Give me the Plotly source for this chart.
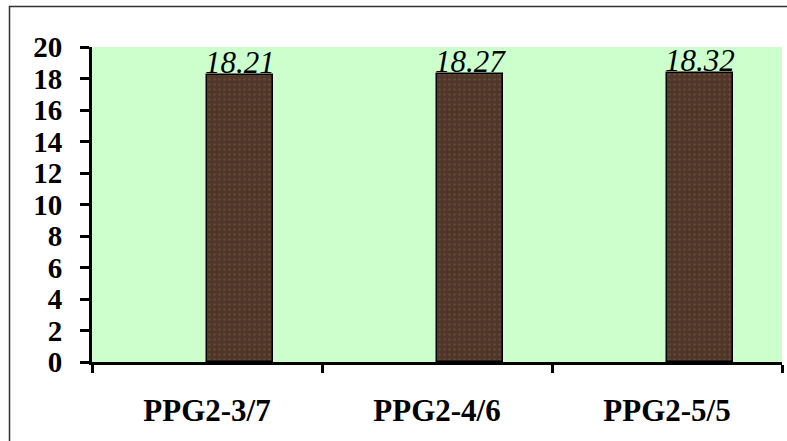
import plotly.graph_objects as go

categories = ["PPG2-3/7", "PPG2-4/6", "PPG2-5/5"]
values = [18.21, 18.27, 18.32]
y_ticks = list(range(0, 21, 2))

W, H = 787, 441
L, R, T, B = 92, 5, 47, 79
pw, ph = W - L - R, H - T - B
BAR_W = 0.287
SERIF = "'Liberation Serif', 'Times New Roman', Times, serif"

def px_x(p):
    return (p - L) / pw

def px_y(p):
    return 1 - (p - T) / ph

fig = go.Figure()
fig.add_trace(go.Bar(
    x=categories,
    y=values,
    offset=0,
    width=BAR_W,
    marker=dict(
        color="rgb(80,54,40)",
        line=dict(color="black", width=1.5),
        pattern=dict(shape=".", fgcolor="rgb(118,90,72)", size=5, solidity=0.2, fillmode="overlay"),
    ),
    cliponaxis=False,
))

annotations = [
    dict(x=c, y=v, xref="x", yref="y", text=f"{v:.2f}", showarrow=False,
         xanchor="center", yanchor="bottom", xshift=BAR_W * pw / 3 / 2, yshift=-7,
         font=dict(family=SERIF, size=31, color="black", style="italic"))
    for c, v in zip(categories, values)
]

fig.update_layout(
    width=W, height=H,
    margin=dict(l=L, r=R, t=T, b=B),
    paper_bgcolor="white",
    plot_bgcolor="#CCFFCC",
    showlegend=False,
    bargap=0,
    annotations=annotations,
    xaxis=dict(
        type="category",
        range=[-0.5, 2.5],
        showline=True, linecolor="black", linewidth=3,
        ticks="outside", ticklen=8, tickwidth=3, tickcolor="black",
        tickson="boundaries",
        showgrid=False,
        ticklabelstandoff=19,
        tickfont=dict(family=SERIF, size=31, color="black", weight="bold"),
    ),
    yaxis=dict(
        range=[0, 20],
        tickvals=y_ticks,
        showline=True, linecolor="black", linewidth=3,
        ticks="outside", ticklen=9, tickwidth=3, tickcolor="black",
        showgrid=False, zeroline=False,
        ticklabelstandoff=12,
        tickfont=dict(family=SERIF, size=29, color="black", weight="bold"),
    ),
    shapes=[dict(
        type="rect", xref="paper", yref="paper",
        x0=px_x(9.5), x1=px_x(820), y0=px_y(480), y1=px_y(6.5),
        line=dict(color="#333333", width=1.5), fillcolor="rgba(0,0,0,0)",
        layer="above",
    )],
)

fig.write_html("out.html")
